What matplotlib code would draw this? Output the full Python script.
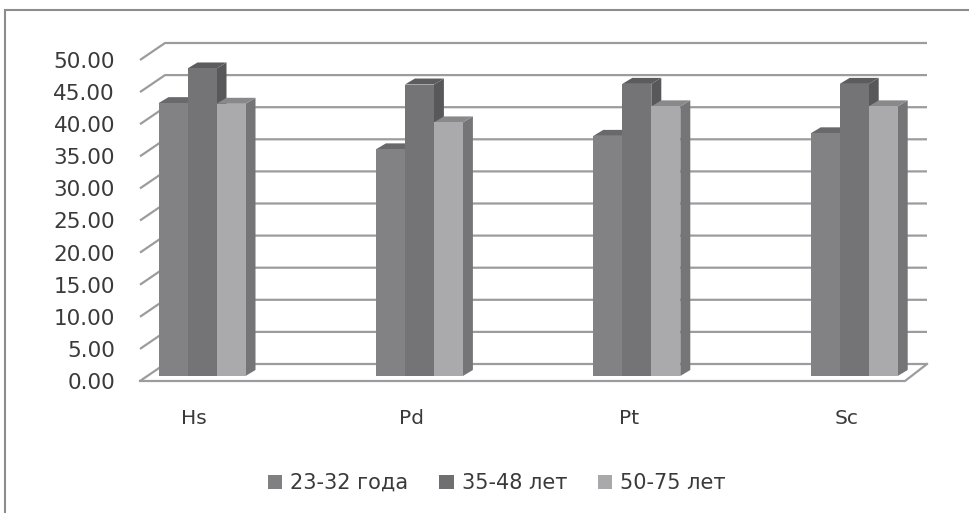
import matplotlib
matplotlib.use("Agg")
import matplotlib.pyplot as plt
from matplotlib.patches import Polygon, Patch, Rectangle

categories = ["Hs", "Pd", "Pt", "Sc"]
series_names = ["23-32 года", "35-48 лет", "50-75 лет"]
young = [42.5, 35.3, 37.4, 37.8]
middle = [47.9, 45.4, 45.5, 45.5]
older = [42.4, 39.5, 42.0, 42.0]
y_ticks = [0, 5, 10, 15, 20, 25, 30, 35, 40, 45, 50]

W, H = 969, 513
fig = plt.figure(figsize=(W / 100, H / 100), dpi=100, facecolor="white")
plt.rcParams["font.family"] = "DejaVu Sans"

# plot area in pixels: front floor edge x 140-905, y 381 (0) to 60 (50)
L, R, B, T = 140, 905, 381, 60
ax = fig.add_axes([L / W, 1 - B / H, (R - L) / W, (B - T) / H])
PX_X = 217.4   # pixels per category
PX_Y = (B - T) / 50
x0 = (202 - L) / PX_X
ax.set_xlim(-x0, (R - L) / PX_X - x0)
ax.set_ylim(0, 50)
ax.patch.set_visible(False)
for s in ax.spines.values():
    s.set_visible(False)

px = lambda v: v / PX_X
py = lambda v: v / PX_Y

# wall and floor
GRID = "#9c9c9f"
xl, xr = ax.get_xlim()
ddx, ddy = px(25), py(17)
for v in y_ticks:
    ax.plot([xl, xl + ddx, xr + px(22)], [v, v + ddy, v + ddy],
            color=GRID, lw=1.6, clip_on=False, zorder=1, solid_capstyle="butt")
ax.plot([xl, xr, xr + px(22)], [0, 0, ddy], color=GRID, lw=1.6,
        clip_on=False, zorder=1, solid_joinstyle="miter")

# 3-D bars
FRONT = ["#828285", "#747477", "#aaaaad"]
TOP = ["#69696c", "#5c5c5e", "#89898c"]
SIDE = ["#5f5f62", "#58585a", "#757578"]
bw = px(29)
dbx, dby = px(10), py(6)
base = py(5)
z = 3
for i, vals in enumerate([young, middle, older]):
    for c, v in enumerate(vals):
        x1 = c + (i - 1.5) * bw
        x2 = x1 + bw
        top = v + base
        ax.add_patch(Polygon([(x2, base), (x2 + dbx, base + dby), (x2 + dbx, top + dby), (x2, top)],
                             fc=SIDE[i], ec="none", clip_on=False, zorder=z))
        ax.add_patch(Polygon([(x1, top), (x1 + dbx, top + dby), (x2 + dbx, top + dby), (x2, top)],
                             fc=TOP[i], ec="none", clip_on=False, zorder=z))
        ax.add_patch(Polygon([(x1, base), (x2, base), (x2, top), (x1, top)],
                             fc=FRONT[i], ec="none", clip_on=False, zorder=z + 0.5))
    z += 1

# axes ticks
TXT = "#3a3a3a"
ax.set_yticks(y_ticks)
ax.set_yticklabels([f"{v:.2f}" for v in y_ticks], fontsize=15.5, color=TXT)
ax.set_xticks([c - px(8) for c in range(len(categories))])
ax.set_xticklabels(categories, fontsize=14.5, color=TXT)
ax.tick_params(axis="y", length=0, pad=18)
ax.tick_params(axis="x", length=0, pad=20)

# legend
handles = [Patch(fc=c, ec="none") for c in ["#808083", "#6f6f72", "#a9a9ac"]]
fig.legend(handles, series_names, ncol=3, loc="center",
           bbox_to_anchor=(497 / W, 1 - 483 / H), frameon=False,
           fontsize=15, labelcolor=TXT, handlelength=0.68, handleheight=0.68,
           handletextpad=0.38, columnspacing=1.5)

# outer frame, running off the right and bottom edges
fig.add_artist(Rectangle((5 / W, -0.05), 1.1, 1 - 10 / H + 0.05, transform=fig.transFigure,
                         fc="none", ec="#8c8c8c", lw=1.5, clip_on=True))

fig.savefig("out.png", dpi=100)
